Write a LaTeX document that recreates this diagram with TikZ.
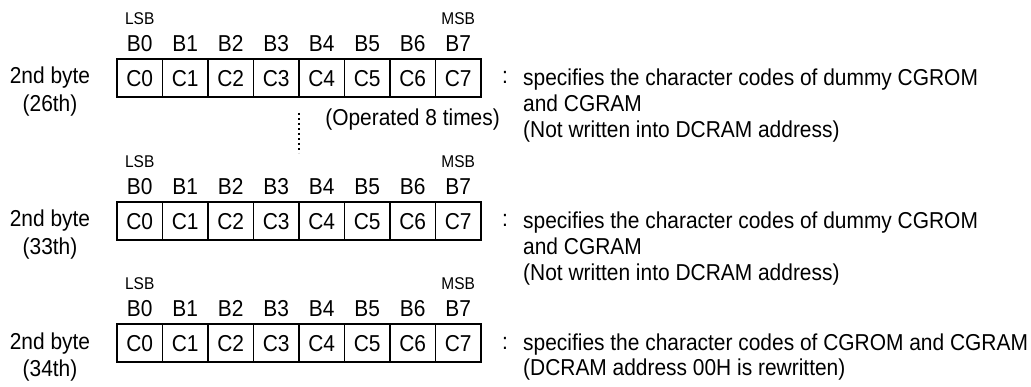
\documentclass[tikz,border=0pt]{standalone}
\usepackage{fontspec}
\setmainfont{Liberation Sans}[FakeStretch=0.91]
\usetikzlibrary{calc}
\begin{document}
\begin{tikzpicture}[x=1pt,y=-1pt,
  cell/.style={draw, line width=1.1pt, minimum width=45.5pt, minimum height=38pt,
    inner sep=0pt, outer sep=0pt, text height=16.5pt, text depth=0pt,
    font=\fontsize{23}{27}\selectfont},
  txt/.style={font=\fontsize{23}{27}\selectfont, inner sep=0pt},
  blabel/.style={txt, text height=16.5pt, text depth=0pt},
  small/.style={font=\fontsize{17}{20}\selectfont, inner sep=0pt,
    text height=12.2pt, text depth=0pt},
  dots/.style={line width=1.2pt, dash pattern=on 2.5pt off 2.5pt}]
\useasboundingbox (0,0) rectangle (1031,387);
\foreach \r/\y/\n in {1/78/26th,2/221/33th,3/343/34th}{
  \foreach \i in {0,...,7}{
    \node[cell] (c\r-\i) at ({139.75+45.5*\i},\y) {C\i};
    \node[blabel] (b\r-\i) at ({139.75+45.5*\i},{\y-35}) {B\i};
  }
  \node[small] (lsb\r) at (139.75,{\y-60}) {LSB};
  \node[small] (msb\r) at ({139.75+45.5*7},{\y-60}) {MSB};
  \node[txt, anchor=base] (l\r) at (50,{\y+6}) {2nd byte};
  \node[txt, anchor=base] (n\r) at (50,{\y+34}) {(\n)};
  \node[txt, anchor=base] (col\r) at (505,{\y+6}) {:};
}
\node[txt, anchor=base west] (t1a) at (523,{78+8}) {specifies the character codes of dummy CGROM};
\node[txt, anchor=base west] (t1b) at (523,{78+34}) {and CGRAM};
\node[txt, anchor=base west] (t1c) at (523,{78+60}) {(Not written into DCRAM address)};
\node[txt, anchor=base west] (t2a) at (523,{221+8}) {specifies the character codes of dummy CGROM};
\node[txt, anchor=base west] (t2b) at (523,{221+34}) {and CGRAM};
\node[txt, anchor=base west] (t2c) at (523,{221+60}) {(Not written into DCRAM address)};
\node[txt, anchor=base west] (t3a) at (523,{343+8}) {specifies the character codes of CGROM and CGRAM};
\node[txt, anchor=base west] (t3b) at (523,{343+32}) {(DCRAM address 00H is rewritten)};
\node[txt, anchor=base east] (op) at (500,126) {(Operated 8 times)};
\coordinate (dtop) at ($(c1-3.south east)+(0,16)$);
\coordinate (dbot) at ($(c1-3.south east)+(0,56)$);
\draw[dots] (dtop) -- (dbot);
\end{tikzpicture}
\end{document}
